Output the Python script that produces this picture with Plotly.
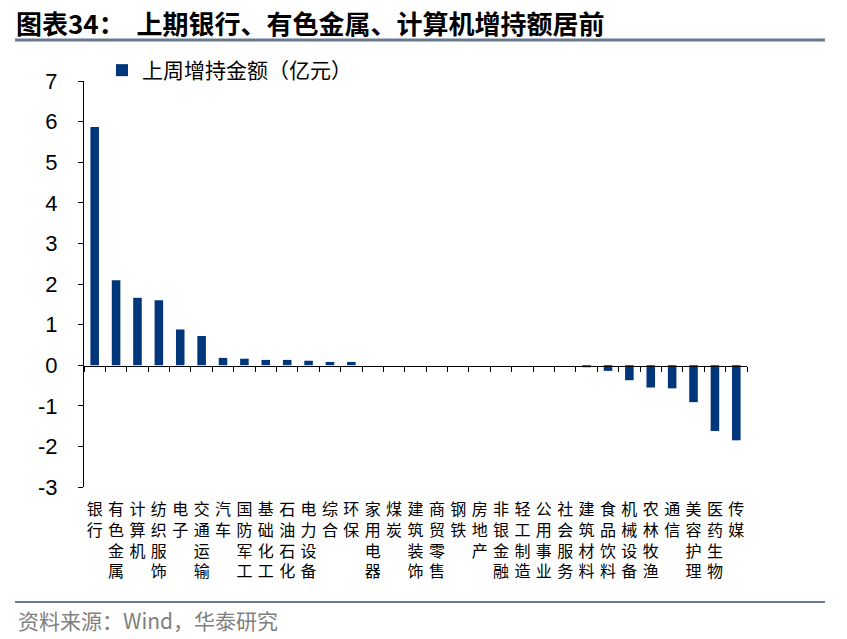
import plotly.graph_objects as go

categories = ["银行", "有色金属", "计算机", "纺织服饰", "电子", "交通运输", "汽车", "国防军工",
              "基础化工", "石油石化", "电力设备", "综合", "环保", "家用电器", "煤炭", "建筑装饰",
              "商贸零售", "钢铁", "房地产", "非银金融", "轻工制造", "公用事业", "社会服务",
              "建筑材料", "食品饮料", "机械设备", "农林牧渔", "通信", "美容护理", "医药生物", "传媒"]
values = [5.87, 2.09, 1.66, 1.60, 0.88, 0.72, 0.18, 0.16, 0.13, 0.13, 0.11, 0.08, 0.08,
          0.0, 0.0, 0.0, 0.0, 0.0, 0.0, 0.0, 0.0, 0.0, 0.0,
          -0.05, -0.14, -0.37, -0.55, -0.57, -0.91, -1.62, -1.85]
series_name = "上周增持金额（亿元）"
y_ticks = [-3, -2, -1, 0, 1, 2, 3, 4, 5, 6, 7]
y_tick_labels = [str(v) for v in y_ticks]

tick_text = ["<br>".join(list(c)) for c in categories]

CJK = "Noto Sans CJK SC"
BAR = "#00367a"

fig = go.Figure()
fig.add_trace(go.Bar(x=categories, y=values, name=series_name, marker_color=BAR,
                     width=0.4, marker_line_width=0))
# invisible helper trace so that the zero-line axis is drawn
fig.add_trace(go.Scatter(x=categories, y=values, xaxis="x2", mode="none",
                         showlegend=False, hoverinfo="skip"))

W, H = 847, 639
L, R, T, B = 84, 100, 81, 152

def py(p):
    return (H - B - p) / (H - T - B)

def px(q):
    return (q - L) / (W - L - R)

fig.update_layout(
    width=W, height=H,
    margin=dict(l=L, r=R, t=T, b=B, autoexpand=False),
    plot_bgcolor="white", paper_bgcolor="white",
    font=dict(family=CJK, color="#000"),
    showlegend=True,
    legend=dict(x=px(102), y=py(50), xanchor="left", yanchor="top",
                font=dict(family=CJK, size=21, color="#000"),
                bgcolor="rgba(0,0,0,0)", itemwidth=30),
    xaxis=dict(type="category", categoryorder="array", categoryarray=categories,
               range=[-0.5, len(categories) - 0.5], automargin=False,
               tickmode="array", tickvals=categories, ticktext=tick_text,
               showline=False, ticks="", showgrid=False, zeroline=False,
               tickfont=dict(family=CJK, size=16, color="#000"),
               ticklabelstandoff=11, tickangle=0),
    xaxis2=dict(type="category", categoryorder="array", categoryarray=categories,
                range=[-0.5, len(categories) - 0.5], overlaying="x", anchor="free",
                position=py(366), side="bottom", automargin=False,
                showline=True, linecolor="#000", linewidth=1.3,
                ticks="outside", tickson="boundaries", ticklen=5, tickcolor="#000",
                tickwidth=1.3, showticklabels=False, showgrid=False, zeroline=False),
    yaxis=dict(range=[-3, 7], tickmode="array", tickvals=y_ticks, ticktext=y_tick_labels,
               automargin=False,
               showline=True, linecolor="#000", linewidth=1.3,
               ticks="outside", ticklen=5, tickcolor="#000", tickwidth=1.3,
               showgrid=False, zeroline=False,
               tickfont=dict(family="Liberation Sans, Arial", size=22, color="#000"),
               ticklabelstandoff=16),
    bargap=0.6,
)

fig.add_annotation(text="<b>图表34：  上期银行、有色金属、计算机增持额居前</b>",
                   xref="paper", yref="paper", x=px(14), y=py(22),
                   xanchor="left", yanchor="middle", showarrow=False,
                   font=dict(family=CJK, size=26, color="#000"))
fig.add_shape(type="line", xref="paper", yref="paper", x0=px(15), x1=px(825),
              y0=py(40), y1=py(40), line=dict(color="#687a8f", width=3))
fig.add_shape(type="line", xref="paper", yref="paper", x0=px(15), x1=px(825),
              y0=py(602), y1=py(602), line=dict(color="#687a8f", width=2))
fig.add_annotation(text="资料来源：Wind，华泰研究",
                   xref="paper", yref="paper", x=px(16), y=py(620),
                   xanchor="left", yanchor="middle", showarrow=False,
                   font=dict(family=CJK, size=21, color="#808080"))

fig.write_html("out.html", config={"displayModeBar": False},
               post_script="document.body.style.margin='0';document.body.style.padding='0';")
